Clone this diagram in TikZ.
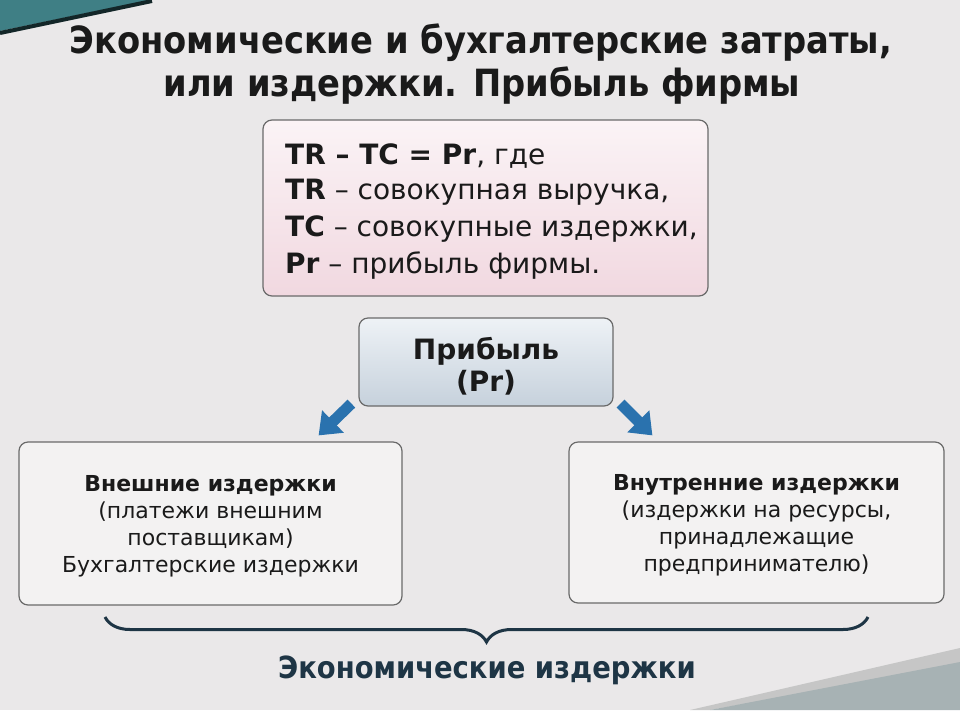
\documentclass[tikz,border=0pt]{standalone}
\usepackage{fontspec}
\setmainfont{DejaVu Sans}
\newfontfamily\condbold{DejaVu Sans Condensed}[BoldFont={DejaVu Sans Condensed Bold}]
\usetikzlibrary{arrows.meta,decorations.pathreplacing,calc,shadings}
\definecolor{bgc}{HTML}{EAE8E9}
\definecolor{boxline}{HTML}{6A6A6A}
\definecolor{boxfill}{HTML}{F3F2F2}
\definecolor{pinkb}{HTML}{F1D8E0}
\definecolor{bluet}{HTML}{EEF2F6}
\definecolor{blueb}{HTML}{C6D1DC}
\definecolor{arrowblue}{HTML}{2A72AE}
\definecolor{darktext}{HTML}{1A1A1A}
\definecolor{bottomtext}{HTML}{1E3545}
\definecolor{teal}{HTML}{3F7F85}
\begin{document}
\begin{tikzpicture}[x=1pt,y=-1pt,
  box/.style={draw=boxline, line width=1.2pt, rounded corners=9pt, fill=boxfill},
  formula/.style={draw=boxline, line width=1.2pt, rounded corners=9pt, top color=white!70!pinkb, bottom color=pinkb},
  profit/.style={draw=boxline, line width=1.2pt, rounded corners=9pt, top color=bluet, bottom color=blueb},
  bigarrow/.style={-{Triangle[length=20pt,width=30pt]}, line width=11pt, arrowblue},
  bracestyle/.style={decorate, decoration={brace, mirror, amplitude=25pt}, line width=3pt, draw=bottomtext},
  txt/.style={inner sep=0pt, text=darktext}
]
% background
\fill[bgc] (0,0) rectangle (960,710);
\useasboundingbox (0,0) rectangle (960,710);
% decorations
\fill[teal] (0,0) -- (150,0) -- (0,31) -- cycle;
\draw[line width=4pt, black!70!teal] (0,33) -- (152,1);
\fill[gray!45] (690,710) -- (960,648) -- (960,665) -- (710,710) -- cycle;
\fill[gray!70!teal!60] (710,710) -- (960,662) -- (960,710) -- cycle;

% title
\node[txt, font=\condbold\bfseries\fontsize{37.5}{43}\selectfont] (title1) at (481,43) {Экономические и бухгалтерские затраты,};
\node[txt, font=\condbold\bfseries\fontsize{37.5}{43}\selectfont] (title2) at (482,86) {или издержки. Прибыль фирмы};

% formula box
\node[formula, minimum width=445pt, minimum height=176pt] (fbox) at (485.5,208) {};
\node[txt, anchor=west, font=\fontsize{28}{37}\selectfont] (f1) at (285,156) {\textbf{TR – TC = Pr}, где};
\node[txt, anchor=west, font=\fontsize{28}{37}\selectfont] (f2) at (285,192) {\textbf{TR} – совокупная выручка,};
\node[txt, anchor=west, font=\fontsize{28}{37}\selectfont] (f3) at (285,229) {\textbf{TC} – совокупные издержки,};
\node[txt, anchor=west, font=\fontsize{28}{37}\selectfont] (f4) at (285,266) {\textbf{Pr} – прибыль фирмы.};

% profit box
\node[profit, minimum width=254pt, minimum height=88pt] (pr) at (486,362) {};
\node[txt, font=\bfseries\fontsize{28}{32}\selectfont, align=center] (prt) at (486,366) {Прибыль\\(Pr)};

% lower boxes
\node[box, minimum width=383pt, minimum height=163pt] (lb) at (210.5,523.5) {};
\node[txt, font=\fontsize{22}{27}\selectfont, align=center] (lbt) at (210.5,526) {\textbf{Внешние издержки}\\(платежи внешним\\поставщикам)\\Бухгалтерские издержки};
\node[box, minimum width=375pt, minimum height=161pt] (rb) at (756.5,522.5) {};
\node[txt, font=\fontsize{22}{27}\selectfont, align=center] (rbt) at (756.5,525) {\textbf{Внутренние издержки}\\(издержки на ресурсы,\\принадлежащие\\предпринимателю)};

% arrows
\coordinate (a1s) at ($(pr.south west)+(-7,-3)$);
\coordinate (a1e) at ($(lb.north east)+(-84,-6)$);
\coordinate (a2s) at ($(pr.south east)+(7,-3)$);
\coordinate (a2e) at ($(rb.north west)+(84,-6)$);
\draw[bigarrow] (a1s) -- (a1e);
\draw[bigarrow] (a2s) -- (a2e);

% brace
\coordinate (bl) at (105,617);
\coordinate (br) at (868,617);
\draw[bracestyle] (bl) -- (br);
\node[txt, text=bottomtext, font=\condbold\bfseries\fontsize{30.5}{34}\selectfont] (econ) at (487,670) {Экономические издержки};
\end{tikzpicture}
\end{document}
